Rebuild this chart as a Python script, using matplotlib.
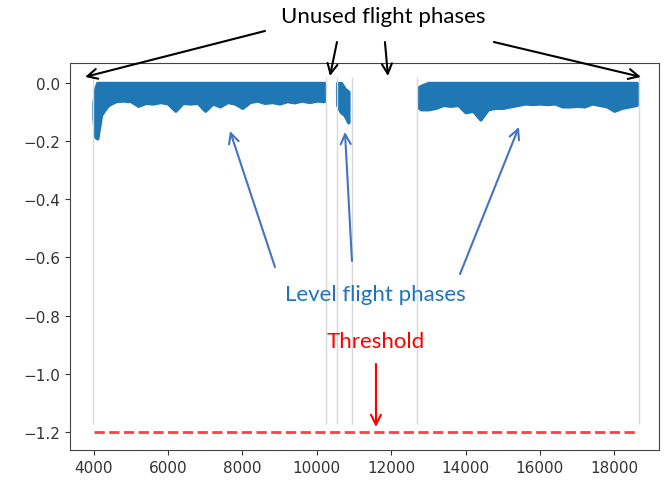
import matplotlib
matplotlib.use('Agg')
import matplotlib.pyplot as plt

# level flight phase 1 (lower edge / upper edge of the point cloud)
seg1_x = [4000, 4050, 4100, 4150, 4200, 4300, 4400, 4600, 4800, 5000, 5200, 5400,
          5600, 5800, 6000, 6200, 6400, 6600, 6800, 7000, 7200, 7400, 7600, 7800,
          8000, 8200, 8400, 8600, 8800, 9000, 9200, 9400, 9600, 9800, 10000, 10200]
seg1_low = [-0.12, -0.185, -0.19, -0.15, -0.11, -0.09, -0.075, -0.062, -0.06, -0.062,
            -0.078, -0.068, -0.07, -0.065, -0.07, -0.095, -0.068, -0.07, -0.068, -0.095,
            -0.07, -0.08, -0.065, -0.07, -0.085, -0.065, -0.06, -0.068, -0.065, -0.07,
            -0.062, -0.066, -0.06, -0.065, -0.06, -0.062]
seg1_top = [-0.07, -0.02] + [0.0] * 34

# level flight phase 2
seg2_x = [10550, 10650, 10750, 10850]
seg2_low = [-0.075, -0.1, -0.11, -0.135]
seg2_top = [0.0, 0.0, -0.02, -0.03]

# level flight phase 3
seg3_x = [12750, 12800, 13000, 13200, 13400, 13600, 13800, 14000, 14200, 14400, 14600,
          14800, 15000, 15200, 15400, 15600, 15800, 16000, 16200, 16400, 16600, 16800,
          17000, 17200, 17400, 17600, 17800, 18000, 18200, 18400, 18600]
seg3_low = [-0.085, -0.09, -0.09, -0.085, -0.075, -0.078, -0.075, -0.1, -0.095, -0.125,
            -0.09, -0.085, -0.085, -0.08, -0.075, -0.07, -0.072, -0.07, -0.072, -0.07,
            -0.08, -0.08, -0.078, -0.08, -0.07, -0.075, -0.08, -0.095, -0.085, -0.08,
            -0.075]
seg3_top = [-0.014, -0.01] + [0.0] * 29

# phase boundaries and threshold
boundaries = [3980, 10240, 10540, 10960, 12705, 18660]
threshold = -1.2
threshold_x = [4000, 18600]

blue = '#1f77b4'

fig = plt.figure(figsize=(6.68, 4.85), dpi=100)
ax = fig.add_axes([0.1048, 0.0701, 0.8817, 0.7979])

ax.vlines(boundaries, -1.173, 0.02, color='#d9d9d9', lw=1)

for xs, lo, hi in [(seg1_x, seg1_low, seg1_top),
                   (seg2_x, seg2_low, seg2_top),
                   (seg3_x, seg3_low, seg3_top)]:
    ax.fill_between(xs, lo, hi, facecolor=blue, edgecolor=blue, lw=2.5,
                    joinstyle='round')

ax.plot(threshold_x, [threshold, threshold], '--', color='red', alpha=0.75, lw=2)

ax.set_xlim(3368, 19200)
ax.set_ylim(-1.262, 0.0688)
ax.set_xticks(range(4000, 18001, 2000))
ax.set_yticks([0.0, -0.2, -0.4, -0.6, -0.8, -1.0, -1.2])
ax.tick_params(labelsize=11, colors='#333333')
for s in ax.spines.values():
    s.set_color('#444444')

# annotations
font = 'Lato'
ax.text(11780, 0.23, 'Unused flight phases', ha='center', va='center',
        fontsize=16, family=font, color='black', clip_on=False)
black_arrows = [((3772, 0.021), (8609, 0.179)),
                ((10356, 0.024), (10544, 0.141)),
                ((11915, 0.024), (11834, 0.141)),
                ((18714, 0.021), (14763, 0.141))]
for tip, start in black_arrows:
    ax.annotate('', xy=tip, xytext=start, annotation_clip=False,
                arrowprops=dict(arrowstyle='->', color='black', lw=1.5,
                                mutation_scale=18, shrinkA=0, shrinkB=0))

ax.text(11565, -0.726, 'Level flight phases', ha='center', va='center',
        fontsize=16, family=font, color='#1f72c0')
blue_arrows = [((7668, -0.165), (8878, -0.633)),
               ((10759, -0.168), (10947, -0.612)),
               ((15435, -0.151), (13851, -0.657))]
for tip, start in blue_arrows:
    ax.annotate('', xy=tip, xytext=start,
                arrowprops=dict(arrowstyle='->', color='#4472c4', lw=1.5,
                                mutation_scale=18, shrinkA=0, shrinkB=0))

ax.text(11592, -0.887, 'Threshold', ha='center', va='center',
        fontsize=16, family=font, color='red')
ax.annotate('', xy=(11592, -1.183), xytext=(11592, -0.966),
            arrowprops=dict(arrowstyle='->', color='red', lw=1.5,
                            mutation_scale=18, shrinkA=0, shrinkB=0))

fig.savefig('out.png', dpi=100)
